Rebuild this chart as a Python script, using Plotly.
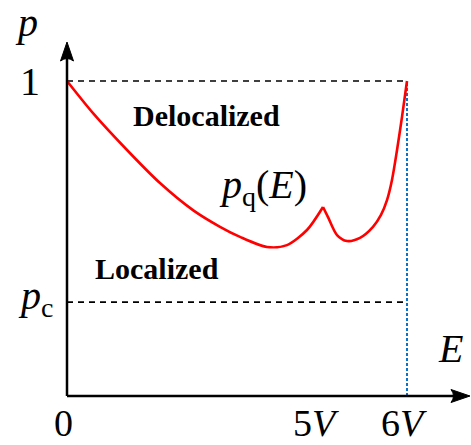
import plotly.graph_objects as go

# ---- data (E in units of V, p dimensionless) ----
E_vals = [0.0, 0.459, 1.059, 1.641, 2.223, 2.70, 3.053, 3.529, 3.882, 4.235,
          4.518, 4.606, 4.765, 4.941, 5.170, 5.40, 5.541, 5.647, 5.735, 5.824, 5.912, 6.0]
p_vals = [1.0, 0.898, 0.781, 0.676, 0.590, 0.537, 0.505, 0.473, 0.479, 0.527,
          0.600, 0.568, 0.511, 0.492, 0.502, 0.537, 0.575, 0.622, 0.686, 0.781, 0.886, 1.0]
peak_index = 10
p_c = 0.298
p_top = 1.0
E_max = 6.0
tick_pos = [-0.07, 4.39, 5.95]
tick_text = ["0", "5<i>V</i>", "6<i>V</i>"]

W, H = 471, 445
x0_px, xs = 67, 340 / 6.0      # pixel of E=0, pixels per unit
y0_px, ys = 396, 315.0         # pixel of p=0, pixels per unit
xr = [-x0_px / xs, (W - x0_px) / xs]
yr = [-(H - y0_px) / ys, y0_px / ys]

math_font = dict(family="Liberation Serif", size=40, color="black")
tick_font = dict(family="Liberation Serif", size=38, color="black")
bold_font = dict(family="Liberation Serif", size=30, color="black")

fig = go.Figure()

# dashed reference lines
for lvl in [p_top, p_c]:
    fig.add_trace(go.Scatter(x=[0, E_max], y=[lvl, lvl], mode="lines",
                             line=dict(color="black", width=1.6, dash="6px,5px"),
                             hoverinfo="skip", showlegend=False))
fig.add_trace(go.Scatter(x=[E_max, E_max], y=[0, p_top], mode="lines",
                         line=dict(color="#0a72c9", width=2, dash="3px,2px"),
                         hoverinfo="skip", showlegend=False))

# curve (two smooth pieces joined at the cusp)
fig.add_trace(go.Scatter(x=E_vals[:peak_index + 1], y=p_vals[:peak_index + 1],
                         mode="lines", line=dict(color="red", width=2.6, shape="spline", smoothing=0.8),
                         hoverinfo="skip", showlegend=False))
fig.add_trace(go.Scatter(x=E_vals[peak_index:], y=p_vals[peak_index:],
                         mode="lines", line=dict(color="red", width=2.6, shape="spline", smoothing=0.8),
                         hoverinfo="skip", showlegend=False))

# axes with arrows
y_tip = (y0_px - 42) / ys
x_tip = (470 - x0_px) / xs
fig.add_shape(type="line", x0=0, x1=0, y0=0, y1=y_tip - 10 / ys, line=dict(color="black", width=2.5))
fig.add_shape(type="line", x0=0, x1=x_tip - 10 / xs, y0=0, y1=0, line=dict(color="black", width=2.5))

def ax(px):
    return px / xs
def ay(px):
    return px / ys

# y arrowhead
fig.add_shape(type="path", fillcolor="black", line=dict(color="black", width=1),
              path=(f"M 0 {y_tip} L {ax(6.5)} {y_tip - ay(19)} "
                    f"Q 0 {y_tip - ay(14)} {-ax(6.5)} {y_tip - ay(19)} Z"))
# x arrowhead
fig.add_shape(type="path", fillcolor="black", line=dict(color="black", width=1),
              path=(f"M {x_tip} 0 L {x_tip - ax(19)} {ay(6.5)} "
                    f"Q {x_tip - ax(14)} 0 {x_tip - ax(19)} {-ay(6.5)} Z"))

def label(x, y, text, font):
    fig.add_annotation(x=x, y=y, text=text, showarrow=False, font=font,
                       xanchor="center", yanchor="middle")

label(-0.706, 1.185, "<i>p</i>", math_font)
label(-0.653, 0.997, "1", math_font)
label(-0.56, 0.31, "<i>p</i><sub>c</sub>", math_font)
label(6.776, 0.15, "<i>E</i>", math_font)
for xp, tt in zip(tick_pos, tick_text):
    label(xp, -0.085, tt, tick_font)
label(3.459, 0.665, "<i>p</i><sub>q</sub>(<i>E</i>)", math_font)
label(2.47, 0.892, "<b>Delocalized</b>", bold_font)
label(1.588, 0.405, "<b>Localized</b>", bold_font)

fig.update_layout(width=W, height=H, margin=dict(l=0, r=0, t=0, b=0),
                  paper_bgcolor="white", plot_bgcolor="white",
                  xaxis=dict(range=xr, visible=False, fixedrange=True),
                  yaxis=dict(range=yr, visible=False, fixedrange=True),
                  showlegend=False)

fig.write_html("out.html", config={"displayModeBar": False},
               post_script="document.body.style.margin='0px';")
